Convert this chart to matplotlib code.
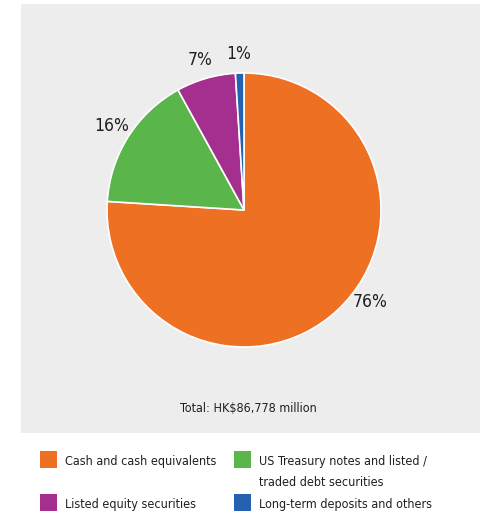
#!/usr/bin/env python

import matplotlib.pyplot as plt
import numpy as np
from matplotlib.patches import Rectangle

plt.rcParams["font.family"] = ["DejaVu Sans"]
plt.rcParams["font.stretch"] = "condensed"

categories = [
    "Cash and cash equivalents",
    "US Treasury notes and listed /\ntraded debt securities",
    "Listed equity securities",
    "Long-term deposits and others",
]
shares = [76, 16, 7, 1]
pct_labels = ["76%", "16%", "7%", "1%"]
colors = ["#EE7023", "#5AB54A", "#A52F8E", "#2461B0"]
total_text = "Total: HK$86,778 million"

W, H = 481, 518
fig = plt.figure(figsize=(W / 100, H / 100), dpi=100)
fig.patch.set_facecolor("white")

# grey panel behind the pie
fig.patches.append(
    Rectangle((21 / W, 1 - 433 / H), 1 - 21 / W, (433 - 4) / H,
              transform=fig.transFigure, facecolor="#EDEDED", edgecolor="none", zorder=-5)
)

cx, cy, r = 244, 210, 137
ax = fig.add_axes([(cx - r) / W, 1 - (cy + r) / H, 2 * r / W, 2 * r / H])
ax.set_zorder(2)
ax.set_facecolor("none")
wedges, texts = ax.pie(
    shares,
    labels=pct_labels,
    colors=colors,
    startangle=90,
    counterclock=False,
    labeldistance=1.14,
    wedgeprops=dict(edgecolor="white", linewidth=1.2),
    textprops=dict(fontsize=12.5, color="#231F20"),
)
for t in texts:
    t.set_ha("center")
    t.set_va("center")
# the big slice's label sits a bit higher than its mid-angle
ang = np.deg2rad(-36)
texts[0].set_position((1.14 * np.cos(ang), 1.14 * np.sin(ang)))
ax.set_xlim(-1, 1)
ax.set_ylim(-1, 1)
ax.set_aspect("equal")
ax.axis("off")

fig.text(248 / W, 1 - 408 / H, total_text, ha="center", va="center",
         fontsize=9, color="#231F20")

# legend, two columns
col_x = [40, 234]
row_y = [460, 503]
for i, (lab, c) in enumerate(zip(categories, colors)):
    x = col_x[i % 2]
    y = row_y[i // 2]
    fig.patches.append(
        Rectangle((x / W, 1 - (y + 8) / H), 17 / W, 17 / H,
                  transform=fig.transFigure, facecolor=c, edgecolor="none")
    )
    fig.text((x + 25) / W, 1 - (y - 5) / H, lab, ha="left", va="top",
             fontsize=9, color="#231F20", linespacing=1.75)

plt.savefig("out.png", dpi=100)
